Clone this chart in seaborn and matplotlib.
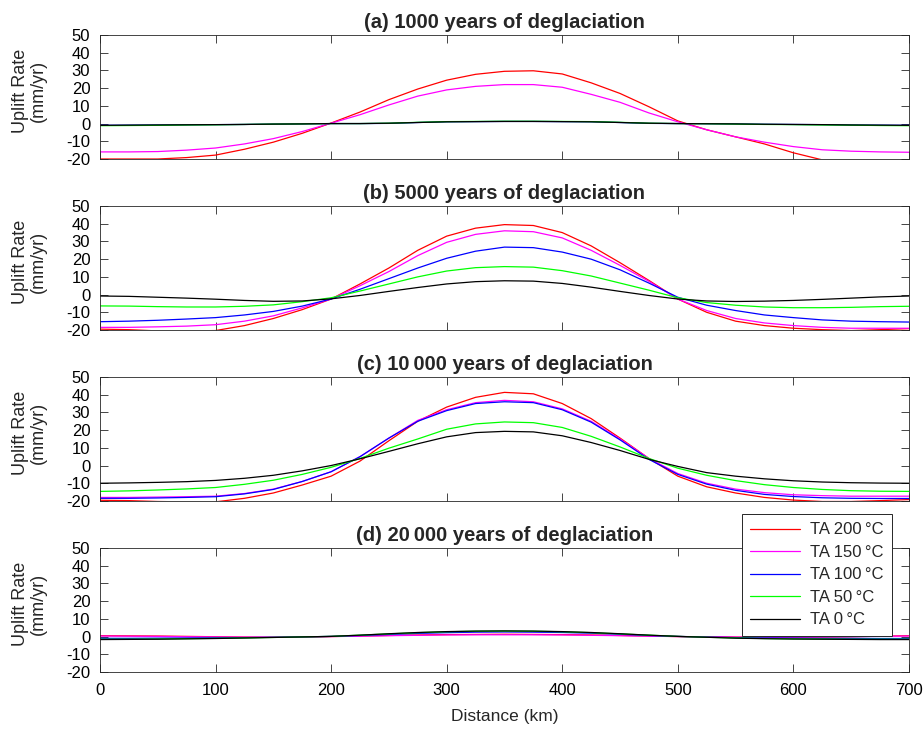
import numpy as np
import pandas as pd
import seaborn as sns
import matplotlib
matplotlib.use("Agg")
import matplotlib.pyplot as plt

# distance along profile (km)
distance = [0, 25, 50, 75, 100, 125, 150, 175, 200, 225, 250, 275, 300, 325, 350,
            375, 400, 425, 450, 475, 500, 525, 550, 575, 600, 625, 650, 675, 700]

series_names = ["TA 200\u2009°C", "TA 150\u2009°C", "TA 100\u2009°C", "TA 50\u2009°C", "TA 0\u2009°C"]
series_colors = ["#ff0000", "#ff00ff", "#0000ff", "#00ff00", "#000000"]

titles = ["(a) 1000 years of deglaciation",
          "(b) 5000 years of deglaciation",
          "(c) 10\u2009000 years of deglaciation",
          "(d) 20\u2009000 years of deglaciation"]

# (a) 1000 years
a_ta200 = [-20, -20, -20, -19.2, -17.8, -14.5, -10.5, -5.5, 0.3, 6.5, 13.5, 19.5, 24.5, 27.8, 29.5,
           29.8, 28, 23, 17, 9.5, 1.5, -3.5, -7.5, -11.5, -16.5, -20.5, -22.5, -24, -25]
a_ta150 = [-16, -16, -15.8, -15, -13.8, -11.5, -8.5, -4.5, 0.2, 5, 10.5, 15.5, 19, 21, 22,
           22, 20.5, 16.5, 12, 6, 1, -3.5, -7.5, -10.5, -13, -14.8, -15.6, -16, -16.2]
a_ta100 = [-1.0, -0.9, -0.8, -0.7, -0.6, -0.5, -0.3, -0.2, 0.0, 0.0, 0.1, 0.6, 1.0, 1.1, 1.2,
           1.2, 1.1, 1.0, 0.6, 0.1, 0.0, -0.1, -0.2, -0.4, -0.5, -0.6, -0.8, -0.9, -1.0]
a_ta50 = [-1.2, -1.1, -1.0, -0.8, -0.7, -0.5, -0.3, -0.2, 0.0, 0.0, 0.2, 0.7, 1.1, 1.2, 1.3,
          1.3, 1.2, 1.1, 0.7, 0.2, 0.0, -0.1, -0.3, -0.5, -0.6, -0.8, -0.9, -1.1, -1.2]
a_ta0 = [-1.0, -0.9, -0.8, -0.7, -0.6, -0.5, -0.3, -0.2, 0.0, 0.0, 0.2, 0.6, 1.0, 1.1, 1.2,
         1.2, 1.1, 1.0, 0.6, 0.2, 0.0, -0.1, -0.2, -0.4, -0.5, -0.6, -0.8, -0.9, -1.0]

# (b) 5000 years
b_ta200 = [-19.5, -19.8, -20.5, -20.5, -20.3, -17.5, -13.5, -8.5, -2.5, 6, 15, 25, 33, 37.5, 39.5,
           39, 35, 27.5, 18, 8, -2.5, -10, -15, -17.5, -19, -19.8, -20.3, -19.8, -19.2]
b_ta150 = [-18.5, -18.5, -18.2, -17.8, -17, -15, -12, -7.5, -2.5, 5, 13, 22, 29.5, 34, 36,
           35.5, 32, 25, 16.5, 7.5, -2.5, -9, -13.5, -16, -17.5, -18.5, -19, -19, -19]
b_ta100 = [-15.3, -15, -14.5, -13.8, -13, -11.5, -9.5, -6.5, -2.5, 3, 9, 15, 20.5, 24.5, 26.8,
           26.5, 24, 20, 14, 6.5, -1.5, -6, -9, -11.5, -13, -14.3, -15, -15.3, -15.5]
b_ta50 = [-6.4, -6.5, -6.8, -7, -7, -6.6, -5.8, -4, -1.8, 2, 6, 10, 13.3, 15.2, 15.8,
          15.5, 13.5, 10.5, 6.5, 2.5, -1.8, -4.5, -6, -7, -7.4, -7.4, -7.2, -6.8, -6.6]
b_ta0 = [-0.8, -1, -1.5, -2, -2.6, -3.3, -3.8, -3.6, -2.4, -0.5, 1.8, 4, 6, 7.3, 7.8,
         7.6, 6.3, 4.2, 1.8, -0.5, -2.5, -3.6, -3.9, -3.7, -3.3, -2.7, -2, -1.3, -0.8]

# (c) 10 000 years
c_ta200 = [-19.6, -19.8, -20.3, -20.5, -20.5, -18.5, -15.5, -11, -6, 2.5, 14, 25, 33, 38.5, 41.3,
           40.5, 35, 26.5, 15.5, 4, -6, -12, -15.5, -18, -19.5, -20.3, -20.3, -19.8, -19.2]
c_ta150 = [-18, -18, -17.8, -17.6, -17.3, -15.8, -13.3, -9, -3.5, 5, 15.5, 25.5, 31.5, 35.5, 36.8,
           36, 32, 25, 15, 4, -4.5, -10, -13.3, -15.3, -16.5, -17, -17.3, -17.3, -17.3]
c_ta100 = [-18.5, -18.5, -18.3, -18, -17.6, -16, -13.5, -9, -3.5, 5, 15.5, 25, 31, 35, 36,
           35.5, 31.5, 24.5, 14.5, 3.5, -5, -10.5, -14, -16.3, -17.5, -18.2, -18.5, -18.6, -18.6]
c_ta50 = [-14.6, -14.3, -13.8, -13.2, -12.4, -10.6, -8.3, -5, -1, 4, 9.8, 15, 20.5, 23.5, 24.6,
          24.2, 21.5, 16.5, 10.5, 4, -1.5, -5.5, -8.5, -10.8, -12.4, -13.5, -14.2, -14.5, -14.6]
c_ta0 = [-10, -9.8, -9.5, -9.1, -8.4, -7.2, -5.5, -3, 0, 3.8, 8, 12.3, 16.2, 18.6, 19.3,
         19, 16.8, 13, 8.5, 3.5, -0.5, -4, -6, -7.5, -8.6, -9.3, -9.7, -9.9, -10]

# (d) 20 000 years
d_ta200 = [0.5, 0.4, 0.3, 0.1, -0.1, -0.3, -0.4, -0.3, 0.0, 0.3, 0.6, 0.9, 1.1, 1.2, 1.3,
           1.2, 1.1, 0.9, 0.6, 0.3, 0.0, -0.1, -0.3, -0.4, -0.4, -0.3, -0.1, 0.2, 0.5]
d_ta150 = [0.3, 0.2, 0.1, -0.1, -0.2, -0.3, -0.4, -0.2, 0.0, 0.2, 0.5, 0.7, 0.9, 1.0, 1.0,
           1.0, 0.9, 0.7, 0.5, 0.2, 0.0, -0.2, -0.3, -0.4, -0.3, -0.2, 0.0, 0.1, 0.3]
d_ta100 = [-1.0, -1.0, -0.9, -0.8, -0.7, -0.6, -0.4, -0.2, 0.1, 0.6, 1.2, 1.8, 2.2, 2.5, 2.6,
           2.5, 2.3, 1.9, 1.3, 0.6, 0.1, -0.3, -0.6, -0.8, -0.9, -1.0, -1.0, -1.1, -1.1]
d_ta50 = [-1.5, -1.5, -1.4, -1.2, -1.0, -0.8, -0.5, -0.2, 0.1, 0.8, 1.5, 2.2, 2.7, 3.0, 3.1,
          3.0, 2.7, 2.2, 1.5, 0.8, 0.1, -0.4, -0.8, -1.1, -1.3, -1.4, -1.5, -1.5, -1.5]
d_ta0 = [-1.7, -1.6, -1.5, -1.3, -1.1, -0.8, -0.5, -0.2, 0.1, 0.8, 1.6, 2.3, 2.8, 3.1, 3.2,
         3.1, 2.8, 2.3, 1.6, 0.8, 0.1, -0.4, -0.9, -1.2, -1.4, -1.5, -1.6, -1.7, -1.7]

panels = [
    [a_ta200, a_ta150, a_ta100, a_ta50, a_ta0],
    [b_ta200, b_ta150, b_ta100, b_ta50, b_ta0],
    [c_ta200, c_ta150, c_ta100, c_ta50, c_ta0],
    [d_ta200, d_ta150, d_ta100, d_ta50, d_ta0],
]

sns.set_style("ticks")
plt.rcParams['font.family'] = ['Liberation Sans', 'DejaVu Sans']
plt.rcParams['axes.unicode_minus'] = False
edge = "#262626"

fig = plt.figure(figsize=(9.24, 7.29), dpi=100)
bottoms = [0.7819, 0.5473, 0.3128, 0.0782]
palette = dict(zip(series_names, series_colors))

for i, (vals, title) in enumerate(zip(panels, titles)):
    ax = fig.add_axes([0.1082, bottoms[i], 0.8755, 0.1701])
    rows = []
    for name, ys in zip(series_names, vals):
        for x, y in zip(distance, ys):
            rows.append((x, y, name))
    df = pd.DataFrame(rows, columns=["Distance", "Rate", "Series"])
    sns.lineplot(data=df, x="Distance", y="Rate", hue="Series", hue_order=series_names,
                 palette=palette, estimator=None, errorbar=None, linewidth=0.9,
                 legend=False, ax=ax)
    ax.set_xlim(0, 700)
    ax.set_ylim(-20, 50)
    ax.set_xticks(range(0, 701, 100))
    ax.set_yticks(range(-20, 51, 10))
    ax.tick_params(direction="in", top=True, right=True, length=6, width=0.6,
                   color=edge, labelsize=12, labelcolor="black")
    ax.tick_params(axis="y", pad=7)
    ax.tick_params(axis="x", pad=8)
    for s in ax.spines.values():
        s.set_visible(True)
        s.set_color(edge)
        s.set_linewidth(0.6)
    ax.set_title(title, fontsize=14.5, fontweight="bold", pad=5)
    ax.set_ylabel("Uplift Rate\n(mm/yr)", fontsize=13, linespacing=1.05)
    ax.yaxis.set_label_coords(-0.066, 0.55)
    if i < 3:
        ax.set_xlabel("")
        ax.set_xticklabels([])
    else:
        ax.set_xlabel("Distance (km)", fontsize=12.5, labelpad=8)
        leg = ax.legend(handles=ax.lines[:5], labels=series_names, loc="upper right",
                        bbox_to_anchor=(0.979, 1.274), borderaxespad=0, fontsize=12,
                        frameon=True, fancybox=False, framealpha=1, edgecolor=edge,
                        handlelength=3.0, handletextpad=0.6, labelspacing=0.45,
                        borderpad=0.5)
        leg.get_frame().set_linewidth(0.7)

fig.savefig("out.png", dpi=100)
